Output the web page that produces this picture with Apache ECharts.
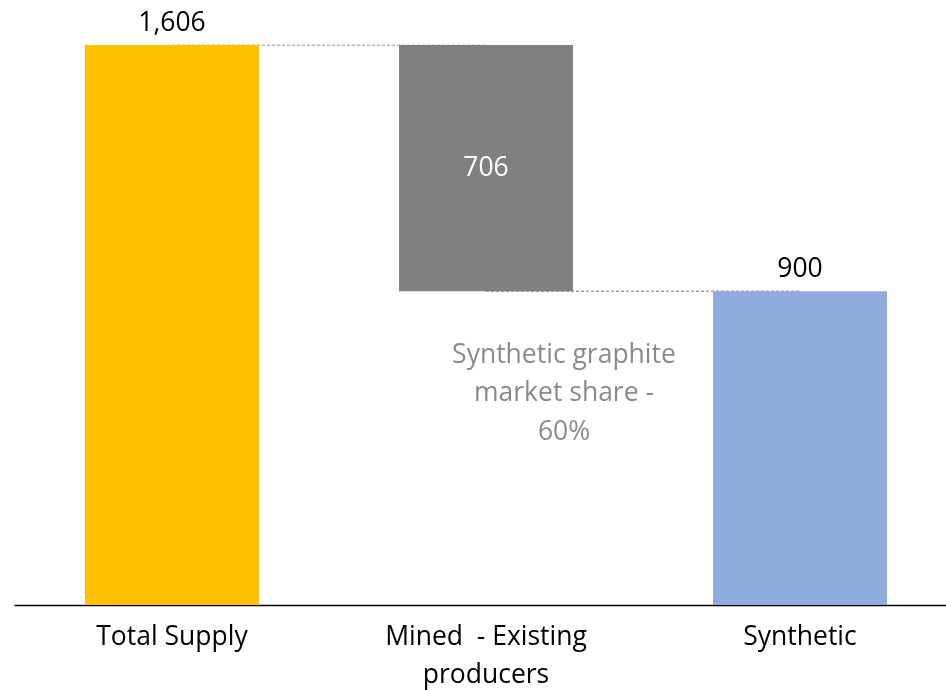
<!DOCTYPE html>
<html>
<head>
<meta charset="utf-8">
<script src="https://cdn.jsdelivr.net/npm/echarts@6/dist/echarts.min.js"></script>
<style>
  html, body { margin: 0; padding: 0; background: #fff; }
  #main { width: 946px; height: 690px; }
</style>
</head>
<body>
<div id="main"></div>
<script>
// data
const categories = ['Total Supply', 'Mined  - Existing\nproducers', 'Synthetic'];
const values = [1606, 706, 900];
const base = [0, 900, 0];
const colors = ['#FFC000', '#808080', '#8FAADC'];
const note = 'Synthetic graphite\nmarket share -\n60%';

const FONT = 'Open Sans';
const SIZE = 26.5;

const chart = echarts.init(document.getElementById('main'));

// connector lines between bar tops
const conn1 = [values[0], values[0], null];
const conn2 = [null, base[1], values[2]];

const option = {
  animation: false,
  grid: { left: 15, width: 942, top: 45, bottom: 85, containLabel: false, outerBoundsMode: 'none' },
  xAxis: {
    type: 'category',
    data: categories,
    axisLine: { lineStyle: { color: '#000', width: 1.3 } },
    axisTick: { show: false },
    axisLabel: {
      color: '#000', fontSize: SIZE, fontFamily: FONT,
      lineHeight: 38, margin: 13, interval: 0
    }
  },
  yAxis: {
    type: 'value', min: 0, max: 1606, show: false,
    splitLine: { show: false }
  },
  series: [
    {
      type: 'line', data: conn1, z: 1, symbol: 'none', silent: true,
      lineStyle: { color: '#6f6f6f', width: 1, type: [3, 2] }
    },
    {
      type: 'line', data: conn2, z: 1, symbol: 'none', silent: true,
      lineStyle: { color: '#6f6f6f', width: 1, type: [3, 2] }
    },
    {
      name: 'base', type: 'bar', stack: 'w', barWidth: '55.4%', z: 3,
      itemStyle: { color: 'transparent' },
      data: base
    },
    {
      name: 'value', type: 'bar', stack: 'w', z: 3,
      data: values.map((v, i) => ({
        value: v,
        itemStyle: { color: colors[i] },
        label: i === 1
          ? { show: true, position: 'inside', color: '#fff' }
          : { show: true, position: 'top', distance: 8, color: '#000' }
      })),
      label: {
        fontSize: SIZE, fontFamily: FONT,
        formatter: p => p.value.toLocaleString('en-US')
      }
    }
  ],
  graphic: [{
    type: 'text', x: 564, y: 336, z: 100,
    style: {
      text: note, fill: '#8a8a8a', fontSize: SIZE, fontFamily: FONT,
      lineHeight: 38.5, align: 'center'
    }
  }]
};

chart.setOption(option);
</script>
</body>
</html>
